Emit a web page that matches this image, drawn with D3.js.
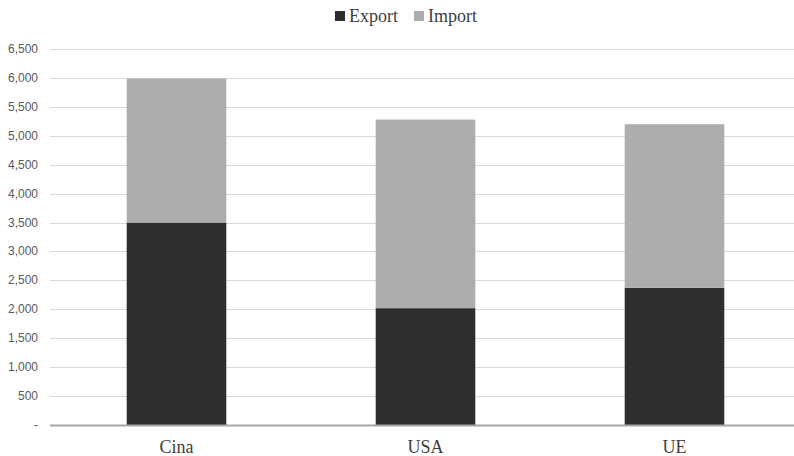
<!DOCTYPE html>
<html>
<head>
<meta charset="utf-8">
<script src="https://cdn.jsdelivr.net/npm/d3@7"></script>
<style>
  body { margin: 0; background: #fff; }
  svg { display: block; }
</style>
</head>
<body>
<svg id="chart" width="794" height="456"></svg>
<script>
const countries = ['Cina', 'USA', 'UE'];
const exportValues = [3500, 2020, 2370];
const importValues = [2490, 3260, 2830];
const seriesNames = ['Export', 'Import'];
const seriesColors = ['#2e2e2e', '#adadad'];
const yTicks = [0, 500, 1000, 1500, 2000, 2500, 3000, 3500, 4000, 4500, 5000, 5500, 6000, 6500];

const svg = d3.select('#chart');

const x = d3.scaleBand().domain(countries).range([52, 799]).paddingInner(0.6).paddingOuter(0.3);
const y = d3.scaleLinear().domain([0, 6500]).range([425, 49]);

// gridlines
svg.append('g')
  .selectAll('line')
  .data(yTicks.slice(1))
  .enter()
  .append('line')
  .attr('x1', 50)
  .attr('x2', 794)
  .attr('y1', d => Math.round(y(d)) + 0.5)
  .attr('y2', d => Math.round(y(d)) + 0.5)
  .attr('stroke', '#d9d9d9')
  .attr('stroke-width', 1);

// y labels
const fmt = d3.format(',');
svg.append('g')
  .selectAll('text')
  .data(yTicks)
  .enter()
  .append('text')
  .attr('x', 38)
  .attr('y', d => y(d) + 4)
  .attr('text-anchor', 'end')
  .style('font-family', '"Liberation Sans", Arial, sans-serif')
  .style('font-size', '12px')
  .style('fill', '#595959')
  .text(d => d === 0 ? '-' : fmt(d));

// stacked bars
const rows = countries.map((c, i) => ({ country: c, Export: exportValues[i], Import: importValues[i] }));
const stacked = d3.stack().keys(seriesNames)(rows);

svg.append('g')
  .selectAll('g')
  .data(stacked)
  .enter()
  .append('g')
  .attr('fill', (d, i) => seriesColors[i])
  .selectAll('rect')
  .data(d => d)
  .enter()
  .append('rect')
  .attr('x', d => x(d.data.country))
  .attr('width', x.bandwidth())
  .attr('y', d => y(d[1]))
  .attr('height', d => y(d[0]) - y(d[1]));

// x axis line
svg.append('line')
  .attr('x1', 50)
  .attr('x2', 794)
  .attr('y1', 425.5)
  .attr('y2', 425.5)
  .attr('stroke', '#a6a6a6')
  .attr('stroke-width', 2);

// x labels
svg.append('g')
  .selectAll('text')
  .data(countries)
  .enter()
  .append('text')
  .attr('x', d => x(d) + x.bandwidth() / 2)
  .attr('y', 453)
  .attr('text-anchor', 'middle')
  .style('font-family', '"Liberation Serif", "Times New Roman", serif')
  .style('font-size', '18px')
  .style('fill', '#404040')
  .text(d => d);

// legend
const legendX = [335, 414];
const legend = svg.append('g');
legend.selectAll('rect')
  .data(seriesNames)
  .enter()
  .append('rect')
  .attr('x', (d, i) => legendX[i])
  .attr('y', 11)
  .attr('width', 10)
  .attr('height', 10)
  .attr('fill', (d, i) => seriesColors[i]);
legend.selectAll('text')
  .data(seriesNames)
  .enter()
  .append('text')
  .attr('x', (d, i) => legendX[i] + 14)
  .attr('y', 22)
  .style('font-family', '"Liberation Serif", "Times New Roman", serif')
  .style('font-size', '18px')
  .style('fill', '#404040')
  .text(d => d);
</script>
</body>
</html>
